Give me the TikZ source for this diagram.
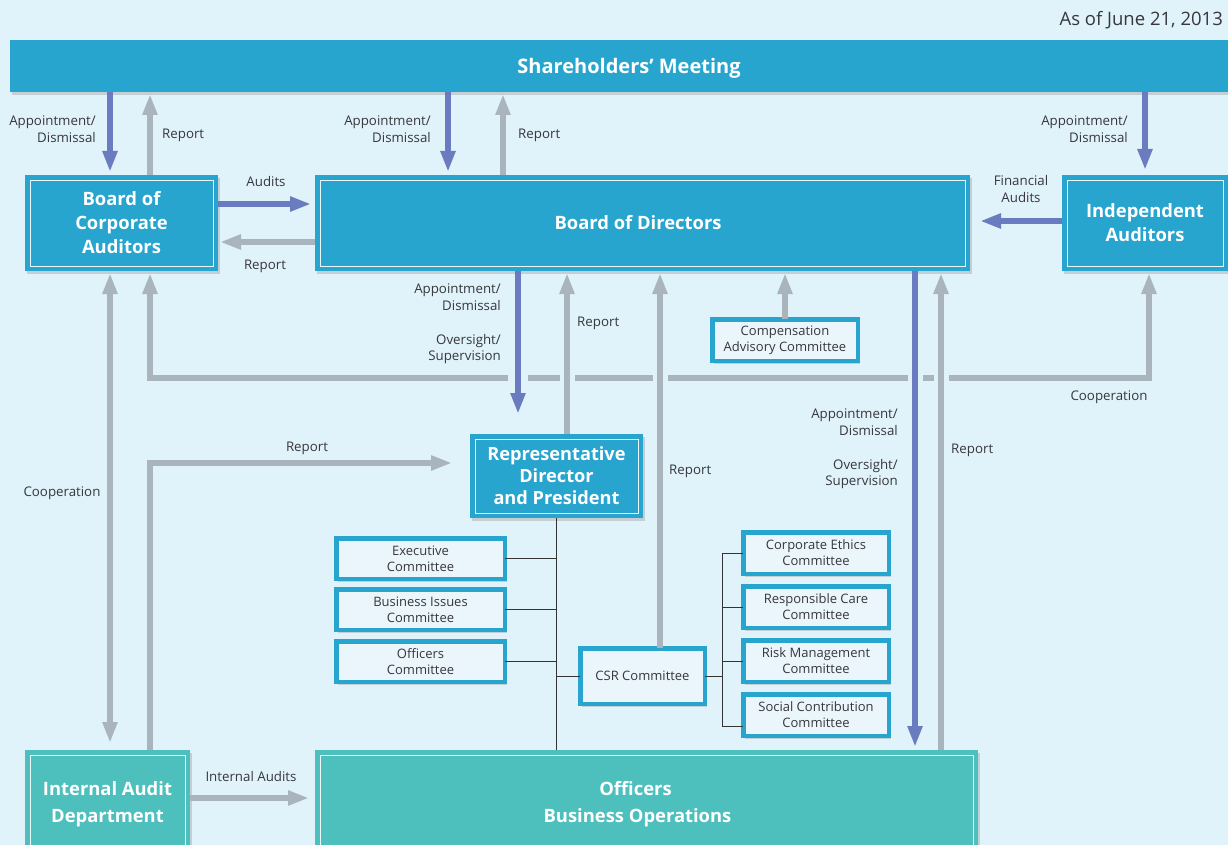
\documentclass[tikz,border=0pt]{standalone}
\usepackage{fontspec}
\setmainfont{Open Sans}
\usetikzlibrary{arrows.meta,shadows,calc}
\definecolor{bgc}{RGB}{224,242,250}
\definecolor{boxblue}{RGB}{39,165,206}
\definecolor{boxteal}{RGB}{77,192,190}
\definecolor{arrblue}{RGB}{107,123,192}
\definecolor{arrgrey}{RGB}{169,180,188}
\definecolor{txt}{RGB}{55,55,60}
\definecolor{cfill}{RGB}{234,246,252}
\begin{document}
\begin{tikzpicture}[x=1pt,y=1pt,
  >={Triangle[length=21pt,width=14pt]},
  bigbox/.style={fill=boxblue, draw=none, text=white, font=\bfseries\fontsize{18.4}{24}\selectfont,
    align=center, inner sep=0pt, outer sep=0pt, anchor=north west,
    drop shadow={shadow xshift=2pt, shadow yshift=-3pt, opacity=0.3}},
  tealbox/.style={bigbox, fill=boxteal, font=\bfseries\fontsize{18.4}{27}\selectfont},
  cbox/.style={fill=cfill, draw=boxblue, line width=4.5pt, text=txt, font=\fontsize{13}{16}\selectfont,
    align=center, inner sep=0pt, outer sep=0pt, anchor=north west,
    drop shadow={shadow xshift=2pt, shadow yshift=-3pt, opacity=0.3}},
  lbl/.style={text=txt, font=\fontsize{13.3}{16.5}\selectfont, inner sep=0pt},
  blu/.style={arrblue, line width=6pt, ->, shorten >=3pt},
  gry/.style={arrgrey, line width=6pt, ->, shorten >=2pt},
  thinl/.style={draw=black!80, line width=0.9pt},
  inner/.style={white, line width=0.9pt, opacity=0.9}]
\clip (0,0) rectangle (1228,-845);
\fill[bgc] (0,0) rectangle (1228,-845);
\useasboundingbox (0,0) rectangle (1228,-845);

% column and row coordinates
\coordinate (c110) at (110,0);
\coordinate (c150) at (150,0);
\coordinate (c448) at (448,0);
\coordinate (c503) at (503,0);
\coordinate (c1145) at (1145,0);
\coordinate (c1149) at (1149,0);
\coordinate (c518) at (518,0);
\coordinate (c567) at (567,0);
\coordinate (c660) at (660,0);
\coordinate (c785) at (785,0);
\coordinate (c915) at (915,0);
\coordinate (c941) at (941,0);
\coordinate (c722) at (722,0);
\coordinate (r204) at (0,-204);
\coordinate (r242) at (0,-242);
\coordinate (r221) at (0,-221);
\coordinate (r378) at (0,-378);
\coordinate (r463) at (0,-463);
\coordinate (r798) at (0,-798);
\coordinate (scb) at (722,-726);

% date
\node[lbl, anchor=east, font=\fontsize{18.5}{20}\selectfont] (date) at (1223,-20) {As of June 21, 2013};

% big boxes
\node[bigbox, minimum width=1238, minimum height=52, font=\bfseries\fontsize{20}{24}\selectfont] (sm) at (10,-40) {\raisebox{-8pt}[0pt][0pt]{Shareholders’ Meeting}};
\node[bigbox, minimum width=193, minimum height=96] (bca) at (25,-175) {Board of\\Corporate\\Auditors};
\node[bigbox, minimum width=655, minimum height=96] (bod) at (315,-175) {Board of Directors\hspace*{9pt}};
\node[bigbox, minimum width=166, minimum height=96] (ia) at (1062,-175) {Independent\\Auditors};
\node[bigbox, minimum width=173, minimum height=84, font=\bfseries\fontsize{18.2}{22}\selectfont] (rep) at (470,-434) {Representative\\Director\\and President};
\node[tealbox, minimum width=165, minimum height=108] (iad) at (25,-750) {Internal Audit\\Department};
\node[tealbox, minimum width=663, minimum height=108] (obo) at (315,-750) {Officers\hspace*{22pt}\\Business Operations\hspace*{18pt}};
\foreach \n in {bca,bod,ia,rep,iad,obo}
  \draw[inner] ([xshift=5pt,yshift=-5pt]\n.north west) rectangle ([xshift=-5pt,yshift=5pt]\n.south east);

% committee boxes
\node[cbox, minimum width=145.5, minimum height=41.5] (cac) at (712.25,-319.25) {Compensation\\Advisory Committee};
\node[cbox, minimum width=168.5, minimum height=40.5] (exec) at (336.25,-538.25) {Executive\\Committee};
\node[cbox, minimum width=168.5, minimum height=40.5] (bi) at (336.25,-589.25) {Business Issues\\Committee};
\node[cbox, minimum width=168.5, minimum height=40.5] (oc) at (336.25,-641.25) {Officers\\Committee};
\node[cbox, minimum width=124.5, minimum height=55.5] (csr) at (580.25,-648.25) {CSR Committee};
\node[cbox, minimum width=145.5, minimum height=41.5] (ce) at (743.25,-532.25) {Corporate Ethics\\Committee};
\node[cbox, minimum width=145.5, minimum height=41.5] (rc) at (743.25,-586.25) {Responsible Care\\Committee};
\node[cbox, minimum width=145.5, minimum height=41.5] (rm) at (743.25,-640.25) {Risk Management\\Committee};
\node[cbox, minimum width=145.5, minimum height=41.5] (sc) at (743.25,-694.25) {Social Contribution\\Committee};

% tree lines
\draw[thinl] (rep.south) -- (obo.north -| rep.south);
\draw[thinl] (exec.east) -- (exec.east -| rep.south);
\draw[thinl] (bi.east) -- (bi.east -| rep.south);
\draw[thinl] (oc.east) -- (oc.east -| rep.south);
\draw[thinl] (csr.west) -- (csr.west -| rep.south);
\draw[thinl] (csr.east) -- (c722 |- csr.east);
\draw[thinl] (c722 |- ce.west) -- (scb);
\draw[thinl] (c722 |- ce.west) -- (ce.west);
\draw[thinl] (c722 |- rc.west) -- (rc.west);
\draw[thinl] (c722 |- rm.west) -- (rm.west);
\draw[thinl] (scb) -- (sc.west |- scb);

% cooperation line (with gaps where verticals cross)
\draw[gry, <->, shorten <=2pt, line join=miter] (c150 |- bca.south) -- (c150 |- r378) -- (c1149 |- r378) -- (c1149 |- ia.south);
\foreach \c/\w in {c518/20, c567/15, c660/15, c915/15, c941/15}
  \fill[bgc] ($(\c |- r378)+(-\w/2,-5)$) rectangle ++(\w,10);

% arrows from shareholders' meeting
\draw[blu] (c110 |- sm.south) -- (c110 |- bca.north);
\draw[gry] (c150 |- bca.north) -- (c150 |- sm.south);
\draw[blu] (c448 |- sm.south) -- (c448 |- bod.north);
\draw[gry] (c503 |- bod.north) -- (c503 |- sm.south);
\draw[blu, shorten >=5pt] (c1145 |- sm.south) -- (c1145 |- ia.north);

% horizontal arrows top
\draw[blu, shorten >=4pt] (bca.east |- r204) -- (bod.west |- r204);
\draw[gry] (bod.west |- r242) -- (bca.east |- r242);
\draw[blu, shorten >=10pt] (ia.west |- r221) -- (bod.east |- r221);

% arrows around board of directors
\draw[blu, shorten >=20pt] (c518 |- bod.south) -- (c518 |- rep.north);
\draw[gry] (c567 |- rep.north) -- (c567 |- bod.south);
\draw[gry] (c660 |- csr.north) -- (c660 |- bod.south);
\draw[gry] (c785 |- cac.north) -- (c785 |- bod.south);
\draw[blu, shorten >=3pt] (c915 |- bod.south) -- (c915 |- obo.north);
\draw[gry] (c941 |- obo.north) -- (c941 |- bod.south);

% left side
\draw[gry, <->, shorten <=2pt, shorten >=7pt] (c110 |- bca.south) -- (c110 |- iad.north);
\draw[gry, shorten >=18pt, line join=miter] (c150 |- iad.north) -- (c150 |- r463) -- (rep.west |- r463);
\draw[gry, shorten >=6pt] (iad.east |- r798) -- (obo.west |- r798);

% labels
\node[lbl, align=right, anchor=east] (l1) at (96,-129) {Appointment/\\Dismissal};
\node[lbl, anchor=west] (l2) at (162,-135) {Report};
\node[lbl, align=right, anchor=east] (l3) at (431,-129) {Appointment/\\Dismissal};
\node[lbl, anchor=west] (l4) at (518,-135) {Report};
\node[lbl, align=right, anchor=east] (l5) at (1128,-129) {Appointment/\\Dismissal};
\node[lbl] (l6) at (266,-182) {Audits};
\node[lbl] (l7) at (265,-266) {Report};
\node[lbl, align=center] (l8) at (1021,-189) {Financial\\Audits};
\node[lbl, align=right, anchor=east] (l9) at (501,-297) {Appointment/\\Dismissal};
\node[lbl, align=right, anchor=east] (l10) at (501,-349) {Oversight/\\Supervision};
\node[lbl, anchor=west] (l11) at (577,-323) {Report};
\node[lbl] (l12) at (1109,-397) {Cooperation};
\node[lbl, align=right, anchor=east] (l13) at (898,-422) {Appointment/\\Dismissal};
\node[lbl, align=right, anchor=east] (l14) at (898,-474) {Oversight/\\Supervision};
\node[lbl, anchor=west] (l15) at (951,-450) {Report};
\node[lbl, anchor=west] (l16) at (669,-471) {Report};
\node[lbl] (l17) at (307,-448) {Report};
\node[lbl] (l18) at (62,-493) {Cooperation};
\node[lbl] (l19) at (251,-777) {Internal Audits};
\end{tikzpicture}
\end{document}
